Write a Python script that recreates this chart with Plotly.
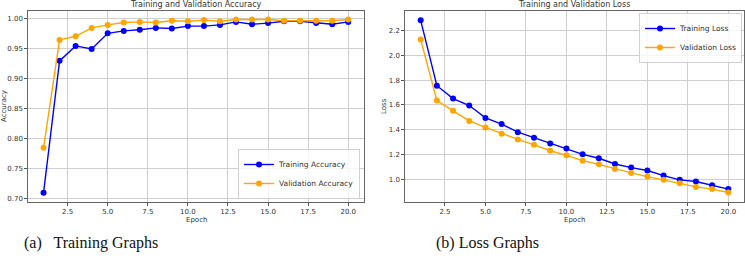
import plotly.graph_objects as go

epochs = list(range(1, 21))
train_acc = [0.709, 0.929, 0.954, 0.949, 0.975, 0.979, 0.981, 0.984, 0.983, 0.987,
             0.987, 0.989, 0.994, 0.990, 0.992, 0.995, 0.995, 0.992, 0.990, 0.994]
val_acc = [0.784, 0.964, 0.970, 0.984, 0.989, 0.993, 0.994, 0.993, 0.996, 0.995,
           0.997, 0.995, 0.998, 0.998, 0.998, 0.996, 0.996, 0.996, 0.996, 0.998]
train_loss = [2.283, 1.755, 1.651, 1.595, 1.495, 1.445, 1.380, 1.335, 1.289, 1.249,
              1.201, 1.169, 1.123, 1.094, 1.070, 1.029, 0.995, 0.981, 0.952, 0.920]
val_loss = [2.128, 1.635, 1.552, 1.471, 1.418, 1.367, 1.321, 1.278, 1.230, 1.193,
            1.150, 1.120, 1.083, 1.051, 1.021, 0.995, 0.968, 0.938, 0.920, 0.893]
x_ticks = [2.5, 5.0, 7.5, 10.0, 12.5, 15.0, 17.5, 20.0]

W, H = 745, 261
BLUE = "#0000ff"
ORANGE = "#ffa500"
TXT = "#333333"
FONT = "DejaVu Sans"

def py(p):
    return 1 - p / H

def px(p):
    return p / W

fig = go.Figure()
mk = dict(size=6)
fig.add_trace(go.Scatter(x=epochs, y=train_acc, mode="lines+markers", name="Training Accuracy",
                         line=dict(color=BLUE, width=1.4), marker=dict(color=BLUE, **mk),
                         xaxis="x", yaxis="y", legend="legend"))
fig.add_trace(go.Scatter(x=epochs, y=val_acc, mode="lines+markers", name="Validation Accuracy",
                         line=dict(color=ORANGE, width=1.4), marker=dict(color=ORANGE, **mk),
                         xaxis="x", yaxis="y", legend="legend"))
fig.add_trace(go.Scatter(x=epochs, y=train_loss, mode="lines+markers", name="Training Loss",
                         line=dict(color=BLUE, width=1.4), marker=dict(color=BLUE, **mk),
                         xaxis="x2", yaxis="y2", legend="legend2"))
fig.add_trace(go.Scatter(x=epochs, y=val_loss, mode="lines+markers", name="Validation Loss",
                         line=dict(color=ORANGE, width=1.4), marker=dict(color=ORANGE, **mk),
                         xaxis="x2", yaxis="y2", legend="legend2"))

ydom = [py(201.5), py(10.8)]
common = dict(showgrid=True, gridcolor="#cfcfcf", gridwidth=1, showline=True, linecolor="#666666",
              linewidth=1, mirror=True, ticks="outside", ticklen=3, tickcolor="#555555",
              tickfont=dict(family=FONT, size=7, color=TXT), zeroline=False)

fig.update_layout(
    width=W, height=H, margin=dict(l=0, r=0, t=0, b=0),
    paper_bgcolor="white", plot_bgcolor="white",
    xaxis=dict(domain=[px(28.3), px(363.5)], range=[0.05, 20.95], tickvals=x_ticks,
               tickformat=".1f", anchor="y", **common),
    yaxis=dict(domain=ydom, range=[0.6945, 1.0125], dtick=0.05, tickformat=".2f",
               anchor="x", **common),
    xaxis2=dict(domain=[px(405.3), px(743.7)], range=[0.05, 20.95], tickvals=x_ticks,
                tickformat=".1f", anchor="y2", **common),
    yaxis2=dict(domain=ydom, range=[0.82, 2.36], dtick=0.2, tickformat=".1f",
                anchor="x2", **common),
    showlegend=True,
    legend=dict(x=px(360), y=py(199), xanchor="right", yanchor="bottom",
                bgcolor="rgba(255,255,255,0.8)", bordercolor="#d0d0d0", borderwidth=1,
                font=dict(family=FONT, size=7.5, color=TXT), tracegroupgap=0,
                itemwidth=30),
    legend2=dict(x=px(742), y=py(13), xanchor="right", yanchor="top",
                 bgcolor="rgba(255,255,255,0.8)", bordercolor="#d0d0d0", borderwidth=1,
                 font=dict(family=FONT, size=7.5, color=TXT), tracegroupgap=0,
                 itemwidth=30),
)

ann = []
def add(text, x, y, size, family=FONT, color=TXT, angle=0, xanchor="center", yanchor="middle"):
    ann.append(dict(text=text, x=px(x), y=py(y), xref="paper", yref="paper", showarrow=False,
                    font=dict(family=family, size=size, color=color), textangle=angle,
                    xanchor=xanchor, yanchor=yanchor))

add("Training and Validation Accuracy", 196, 4.5, 8)
add("Training and Validation Loss", 574, 4.5, 8)
add("Epoch", 196, 220, 7)
add("Epoch", 574, 220, 7)
add("Accuracy", 4, 106, 7, angle=-90)
add("Loss", 384, 106, 7, angle=-90)
add("(a)   Training Graphs", 22, 243, 16, family="Liberation Serif", color="#111111", xanchor="left")
add("(b) Loss Graphs", 434, 243, 16, family="Liberation Serif", color="#111111", xanchor="left")
fig.update_layout(annotations=ann)

fig.write_html("out.html")
